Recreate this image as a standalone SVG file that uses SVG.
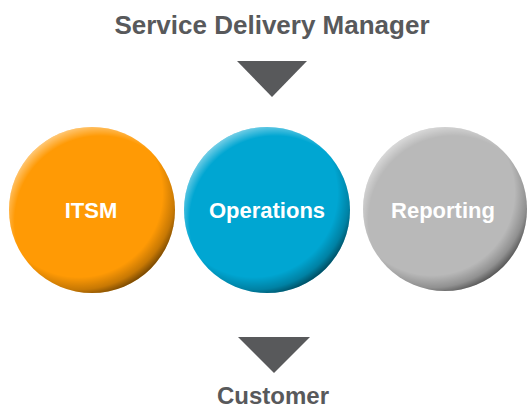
<svg xmlns="http://www.w3.org/2000/svg" width="528" height="410" viewBox="0 0 528 410">
<defs>
<style>
.t{font-family:"Liberation Sans",Arial,sans-serif;font-weight:bold;fill:#58595B;text-anchor:middle}
.l{font-family:"Liberation Sans",Arial,sans-serif;font-weight:bold;fill:#FFFFFF;text-anchor:middle;font-size:22px}
.arrow{fill:#58595B}
</style>
<radialGradient id="dark" cx="0.42" cy="0.40" r="0.63" fx="0.42" fy="0.40">
<stop offset="0.8" stop-color="#000" stop-opacity="0"/>
<stop offset="0.92" stop-color="#000" stop-opacity="0.22"/>
<stop offset="1" stop-color="#000" stop-opacity="0.55"/>
</radialGradient>
<radialGradient id="light" cx="0.55" cy="0.57" r="0.6" fx="0.55" fy="0.57">
<stop offset="0.86" stop-color="#fff" stop-opacity="0"/>
<stop offset="1" stop-color="#fff" stop-opacity="0.55"/>
</radialGradient>
</defs>
<rect width="528" height="410" fill="#fff"/>
<g id="title"><text class="t" x="272" y="34" font-size="26">Service Delivery Manager</text></g>
<g id="itsm">
<circle cx="92" cy="210" r="83" fill="#FF9A05"/>
<circle cx="92" cy="210" r="83" fill="url(#dark)"/>
<circle cx="92" cy="210" r="83" fill="url(#light)"/>
<text class="l" x="91" y="218">ITSM</text>
</g>
<g id="operations">
<circle cx="267" cy="210" r="83" fill="#00A6D2"/>
<circle cx="267" cy="210" r="83" fill="url(#dark)"/>
<circle cx="267" cy="210" r="83" fill="url(#light)"/>
<text class="l" x="267" y="218">Operations</text>
</g>
<g id="reporting">
<circle cx="445" cy="209" r="82" fill="#B9B9B9"/>
<circle cx="445" cy="209" r="82" fill="url(#dark)"/>
<circle cx="445" cy="209" r="82" fill="url(#light)"/>
<text class="l" x="443" y="218">Reporting</text>
</g>
<g id="customer"><text class="t" x="273" y="404" font-size="24">Customer</text></g>
<g id="connectors">
<polygon class="arrow" points="237,61 307,61 272,97"/>
<polygon class="arrow" points="238,337 310,337 274,373"/>
</g>
</svg>
